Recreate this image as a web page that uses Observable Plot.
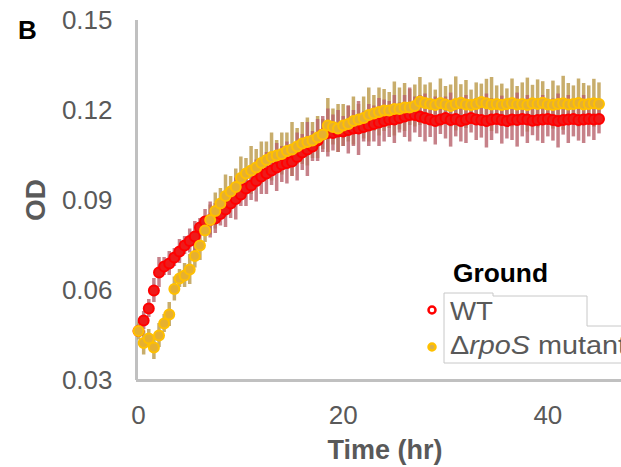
<!DOCTYPE html>
<html><head><meta charset="utf-8">
<script src="https://cdn.jsdelivr.net/npm/d3@7"></script>
<script src="https://cdn.jsdelivr.net/npm/@observablehq/plot@0.6"></script>
<style>
body{margin:0;background:#fff;}
#wrap{position:relative;width:621px;height:467px;overflow:hidden;background:#fff;}
#overlay{position:absolute;left:0;top:0;pointer-events:none;}
</style></head><body><div id="wrap"></div>
<script>
const time = [0,0.5,1,1.5,2,2.5,3,3.5,4,4.5,5,5.5,6,6.5,7,7.5,8,8.5,9,9.5,10,10.5,11,11.5,12,12.5,13,13.5,14,14.5,15,15.5,16,16.5,17,17.5,18,18.5,19,19.5,20,20.5,21,21.5,22,22.5,23,23.5,24,24.5,25,25.5,26,26.5,27,27.5,28,28.5,29,29.5,30,30.5,31,31.5,32,32.5,33,33.5,34,34.5,35,35.5,36,36.5,37,37.5,38,38.5,39,39.5,40,40.5,41,41.5,42,42.5,43,43.5,44,44.5,45];

const wtOD = [0.0465,0.050,0.054,0.060,0.066,0.068,0.069,
0.071,0.073,0.075,0.0765,0.078,0.081,0.083,0.0835,
0.084,0.0855,0.087,0.089,0.0905,0.092,0.094,0.095,0.0965,0.098,
0.099,0.100,0.101,0.102,0.1025,0.103,0.1045,0.106,0.107,0.108,0.110,0.112,
0.1125,0.1125,0.113,0.113,0.1135,0.114,0.114,0.1145,0.115,0.1155,0.116,0.1165,0.117,0.117,0.1175,0.118,0.1185,0.1185,0.118,0.1175,
0.1170,0.1165,0.1170,0.1175,0.1168,0.1172,0.1165,0.1170,0.1175,0.1170,0.1168,0.1165,0.1170,0.1172,0.1168,0.1165,0.1170,0.1168,0.1172,0.1170,0.1166,0.1168,0.1170,0.1172,0.1168,0.1165,0.1168,0.1170,0.1172,0.1168,0.1170,0.1172,0.1170,0.1172];

const wtErr = [0.002,0.003,0.003,0.004,0.005,0.003,0.004,
0.003,0.004,0.003,0.004,0.005,0.003,0.004,0.006,
0.005,0.004,0.006,0.005,0.007,0.004,0.006,0.005,0.007,0.006,
0.007,0.005,0.008,0.006,0.007,0.005,0.008,0.006,0.009,0.005,0.007,0.006,
0.008,0.006,0.007,0.005,0.008,0.006,0.009,0.005,0.007,0.006,0.008,0.007,0.006,0.008,0.005,0.007,0.009,0.006,0.007,0.008,
0.006,0.008,0.005,0.007,0.009,0.006,0.007,0.008,0.005,0.007,0.006,0.009,0.007,0.005,0.008,0.006,0.007,0.009,0.006,0.008,0.005,0.007,0.008,0.006,0.007,0.009,0.005,0.008,0.006,0.007,0.008,0.006,0.007,0.005];

const rpoOD = [0.0465,0.0425,0.044,0.041,0.045,0.049,0.052,
0.0605,0.064,0.065,0.067,0.0715,0.075,0.080,0.0835,
0.0865,0.089,0.0915,0.093,0.0945,0.0975,0.099,0.100,0.101,0.1025,
0.1035,0.1045,0.105,0.1055,0.1065,0.107,0.108,0.109,0.1095,0.110,0.111,0.112,
0.115,0.1145,0.114,0.115,0.1155,0.1165,0.117,0.1175,0.1185,0.119,0.1195,0.120,0.120,0.1205,0.1205,0.121,0.121,0.1215,0.123,0.1225,
0.1222,0.1218,0.1225,0.1220,0.1215,0.1222,0.1226,0.1220,0.1218,0.1222,0.1228,0.1224,0.1220,0.1222,0.1218,0.1222,0.1225,0.1220,0.1222,0.1218,0.1224,0.1222,0.1226,0.1220,0.1218,0.1222,0.1224,0.1220,0.1222,0.1225,0.1220,0.1222,0.1224,0.1222];

const rpoErr = [0.003,0.004,0.003,0.004,0.004,0.003,0.004,
0.004,0.003,0.004,0.005,0.004,0.005,0.004,0.005,
0.006,0.005,0.007,0.005,0.006,0.007,0.005,0.008,0.006,0.007,
0.006,0.008,0.005,0.007,0.006,0.009,0.006,0.007,0.008,0.006,0.007,0.005,
0.009,0.006,0.008,0.007,0.006,0.008,0.005,0.007,0.009,0.006,0.008,0.007,0.006,0.009,0.007,0.008,0.006,0.007,0.008,0.006,
0.007,0.005,0.008,0.006,0.007,0.009,0.006,0.008,0.005,0.007,0.006,0.008,0.009,0.006,0.007,0.005,0.008,0.006,0.007,0.009,0.006,0.008,0.007,0.005,0.008,0.006,0.009,0.007,0.006,0.008,0.007,0.006,0.008,0.007];

const seriesNames = ["WT", "ΔrpoS mutant"];
const yTicks = [0.03, 0.06, 0.09, 0.12, 0.15];
const xTicks = [0, 20, 40];
const xDomain = [-0.2, 47.2];
const yDomain = [0.03, 0.15];

const wt = time.map((t, i) => ({t, od: wtOD[i], err: wtErr[i], s: seriesNames[0]}));
const rpo = time.map((t, i) => ({t, od: rpoOD[i], err: rpoErr[i], s: seriesNames[1]}));

const font = "'Liberation Sans', Arial, sans-serif";
const chart = Plot.plot({
  width: 621, height: 467,
  marginLeft: 136, marginTop: 20, marginBottom: 87, marginRight: 0,
  style: {fontFamily: font, fontSize: "26px", background: "#fff"},
  x: {domain: xDomain},
  y: {domain: yDomain},
  marks: [
    Plot.ruleX([xDomain[0]], {stroke: "#c0c0c0", strokeWidth: 3}),
    Plot.ruleY([yDomain[0]], {stroke: "#c0c0c0", strokeWidth: 3}),
    Plot.ruleX(rpo, {x: "t", y1: d => d.od - d.err, y2: d => d.od + d.err, stroke: "#c2a45c", strokeWidth: 3.5, strokeOpacity: 0.9}),
    Plot.ruleX(wt, {x: "t", y1: d => d.od - d.err, y2: d => d.od + d.err, stroke: "#b8626c", strokeWidth: 3.5, strokeOpacity: 0.8}),
    Plot.dot(wt, {x: "t", y: "od", r: 5, fill: "#ee1a1a", stroke: "#ff0000", strokeWidth: 2}),
    Plot.dot(rpo, {x: "t", y: "od", r: 5, fill: "#e6b030", stroke: "#ffc000", strokeWidth: 2}),
    Plot.axisX({ticks: xTicks, tickSize: 0, tickPadding: 25, color: "#595959", label: null, tickFormat: d3.format("d")}),
    Plot.axisY({ticks: yTicks, tickSize: 0, tickPadding: 24, color: "#595959", label: null, tickFormat: d3.format(".2f")})
  ]
});
const wrap = document.getElementById("wrap");
wrap.appendChild(chart);

const ov = d3.select(wrap).append("svg").attr("id", "overlay").attr("width", 621).attr("height", 467)
  .style("font-family", font);
ov.append("text").attr("x", 18).attr("y", 39).attr("font-size", 26).attr("font-weight", "bold").attr("fill", "#000").text("B");
ov.append("text").attr("transform", "translate(45,200) rotate(-90)").attr("text-anchor", "middle")
  .attr("font-size", 28).attr("font-weight", "bold").attr("fill", "#595959").text("OD");
ov.append("text").attr("x", 385).attr("y", 459).attr("text-anchor", "middle")
  .attr("font-size", 27).attr("font-weight", "bold").attr("fill", "#595959").text("Time (hr)");
// legend
ov.append("polyline").attr("points", "622,326 587,326 587,296 493,296 493,293 444,293 444,363 622,363")
  .attr("fill", "#fff").attr("stroke", "#c8c8c8").attr("stroke-width", 1);
ov.append("text").attr("x", 453).attr("y", 282).attr("font-size", 25).attr("font-weight", "bold").attr("fill", "#000")
  .attr("textLength", 95).attr("lengthAdjust", "spacingAndGlyphs").text("Ground");
ov.append("circle").attr("cx", 432).attr("cy", 310).attr("r", 3.5).attr("fill", "#fff").attr("stroke", "#ff0000").attr("stroke-width", 2.5);
ov.append("circle").attr("cx", 432).attr("cy", 347).attr("r", 3.5).attr("fill", "#d8b050").attr("stroke", "#ffc000").attr("stroke-width", 2.5);
ov.append("text").attr("x", 450).attr("y", 320).attr("font-size", 25).attr("fill", "#595959")
  .attr("textLength", 43).attr("lengthAdjust", "spacingAndGlyphs").text(seriesNames[0]);
const t2 = ov.append("text").attr("x", 450).attr("y", 354).attr("font-size", 25).attr("fill", "#595959")
  .attr("textLength", 176).attr("lengthAdjust", "spacingAndGlyphs");
t2.append("tspan").text("Δ");
t2.append("tspan").attr("font-style", "italic").text("rpoS");
t2.append("tspan").text(" mutant");
</script></body></html>
